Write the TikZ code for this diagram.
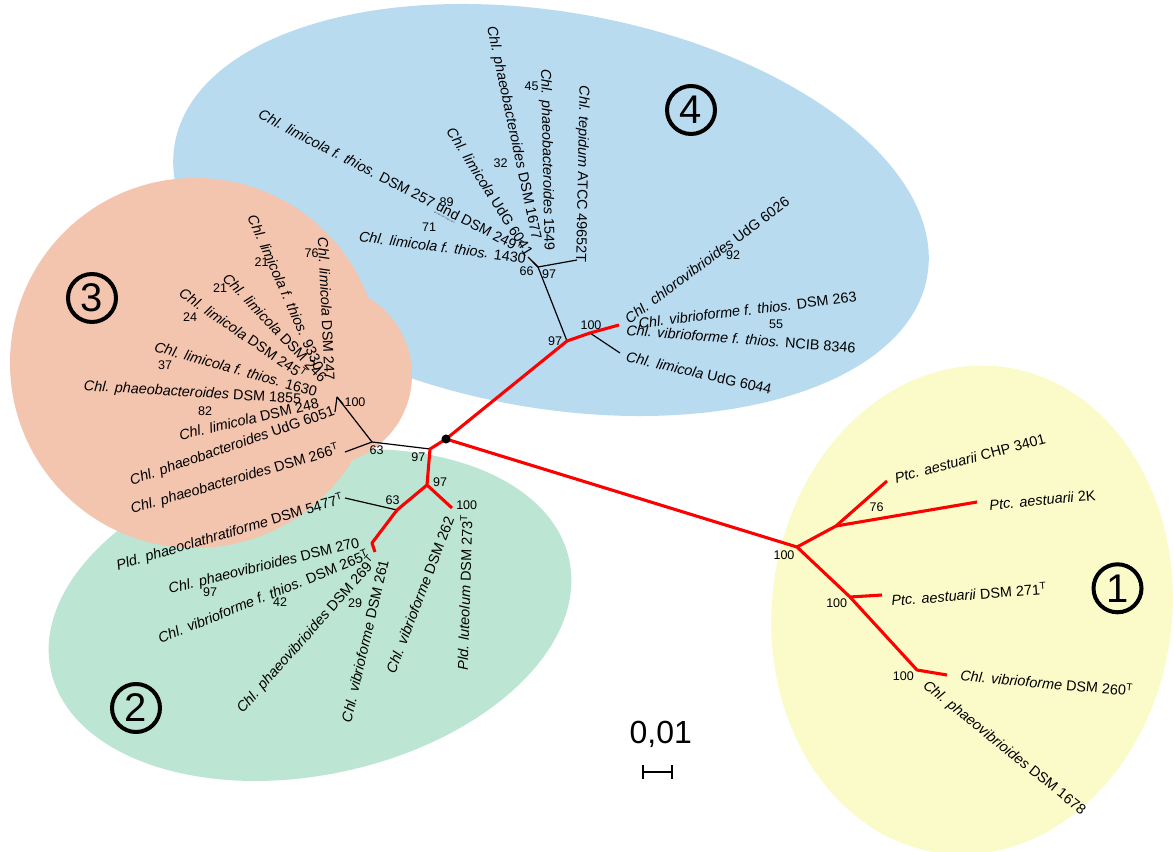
\documentclass[tikz,border=0pt]{standalone}
\usepackage{fontspec}
\setmainfont{Liberation Sans}
\definecolor{blueC}{RGB}{184,219,240}
\definecolor{salmonC}{RGB}{243,196,174}
\definecolor{greenC}{RGB}{189,229,212}
\definecolor{yellowC}{RGB}{251,251,201}
\newcommand\lblsize{\fontsize{10.8}{13}\selectfont}
\newcommand\numsize{\fontsize{9.4}{11}\selectfont}
\newcommand\circsize{\fontsize{30}{32}\selectfont}
\newcommand\dotund[1]{\setbox0\hbox{#1}\rlap{\raisebox{-2.2pt}{\hbox to\wd0{\fontsize{5}{6}\selectfont\leaders\hbox to 1.1pt{\hss.\hss}\hfill}}}\box0\relax}
\begin{document}
\begin{tikzpicture}[x=0.75pt,y=-0.75pt,
  lbl/.style={font=\lblsize, inner sep=0pt, anchor=center},
  num/.style={font=\numsize, inner sep=0pt, anchor=center},
  redbr/.style={draw=red, line width=2.3pt, line join=round},
  blkbr/.style={draw=black, line width=0.9pt, line join=round},
  circnum/.style={circle, draw=black, line width=3pt, minimum size=36pt, inner sep=0pt, font=\circsize}
]
\useasboundingbox (0,0) rectangle (1174,852);
\fill[white] (0,0) rectangle (1174,852);
% cluster areas
\begin{scope}[shift={(551,210)},rotate=-10]
  \fill[blueC] (0,0) ellipse [x radius=286.5pt, y radius=148.5pt];
\end{scope}
\begin{scope}[shift={(310,615)},rotate=12]
  \fill[greenC] (0,0) ellipse [x radius=198.75pt, y radius=120pt];
\end{scope}
\fill[salmonC] (195,363) circle [radius=138.75pt];
\fill[salmonC] (322,375) circle [radius=67.5pt];
\begin{scope}[shift={(972,610)},rotate=-7]
  \fill[yellowC] (0,0) ellipse [x radius=150pt, y radius=183.75pt];
\end{scope}

% tree coordinates
\coordinate (R) at (446,439);
\coordinate (n97a) at (430,449);
\coordinate (n97b) at (427,485);
\coordinate (lut) at (452,508);
\coordinate (n63g) at (397,510);
\coordinate (g1) at (372,543);
\coordinate (g2) at (375,552);
\coordinate (d5477) at (345,498);
\coordinate (n63s) at (372,442);
\coordinate (d266) at (345,452);
\coordinate (n100s) at (337,397);
\coordinate (s1) at (343,404);
\coordinate (s2) at (335,412);
\coordinate (n97c) at (567,341);
\coordinate (n100b) at (590,333);
\coordinate (vib) at (619,325);
\coordinate (lim6044) at (620,353);
\coordinate (nA) at (538,267);
\coordinate (tep) at (577,260);
\coordinate (a1) at (528,257);
\coordinate (a2) at (533,262);
\coordinate (n100y) at (797,547);
\coordinate (n76) at (836,526);
\coordinate (chp) at (887,481);
\coordinate (k2) at (977,502);
\coordinate (n100c) at (850,597);
\coordinate (d271) at (882,595);
\coordinate (n100d) at (917,670);
\coordinate (d260) at (947,675);

% black branches
\draw[blkbr] (n97a) -- (n63s);
\draw[blkbr] (n63s) -- (d266);
\draw[blkbr] (n63s) -- (n100s);
\draw[blkbr] (n100s) -- (s1);
\draw[blkbr] (n100s) -- (s2);
\draw[blkbr] (n63g) -- (d5477);
\draw[blkbr] (n97c) -- (nA);
\draw[blkbr] (nA) -- (tep);
\draw[blkbr] (nA) -- (a1);
\draw[blkbr] (nA) -- (a2);
\draw[blkbr] (n100b) -- (lim6044);
% red branches
\draw[redbr] (R) -- (n97a) -- (n97b) -- (lut);
\draw[redbr] (n97b) -- (n63g) -- (g1) -- (g2);
\draw[redbr] (R) -- (n97c) -- (n100b) -- (vib);
\draw[redbr] (R) -- (n100y) -- (n76) -- (chp);
\draw[redbr] (n76) -- (k2);
\draw[redbr] (n100y) -- (n100c) -- (d271);
\draw[redbr] (n100c) -- (n100d) -- (d260);
\fill[black] (R) circle [radius=3.4pt];

% group 4 labels
\node[lbl, rotate=-91.1] (la) at (581.7,174.3) {\textit{Chl. tepidum} ATCC 49652T};
\node[lbl, rotate=-88.9] (lb) at (546.7,160) {\textit{Chl. phaeobacteroides} 1549};
\node[lbl, rotate=-78] (lc) at (513.3,133) {\textit{Chl. phaeobacteroides} DSM 1677};
\node[lbl, rotate=-57.7] (ld) at (490,191.7) {\textit{Chl. limicola} UdG 6041};
\node[lbl, rotate=-27.3] (le) at (390.5,181.5) {\textit{Chl. limicola f. thios.} DSM 257 \dotund{und} DSM 249\textsuperscript{T}};
\node[lbl, rotate=-7.5] (lf) at (442.5,247.3) {\textit{Chl. limicola f. thios.} 1430};
\node[lbl, rotate=36.7] (lg) at (707,260) {\textit{Chl. chlorovibrioides} UdG 6026};
\node[lbl, rotate=6.9] (lh) at (747.5,310) {\textit{Chl. vibrioforme f. thios.} DSM 263};
\node[lbl, rotate=-4.5] (lj) at (741,339) {\textit{Chl. vibrioforme f. thios.} NCIB 8346};
\node[lbl, rotate=-12.8] (lk) at (699,373) {\textit{Chl. limicola} UdG 6044};
% group 3 labels
\node[lbl, rotate=-87.2] (ll) at (326.5,309) {\textit{Chl. limicola} DSM 247};
\node[lbl, rotate=-66.1] (lm) at (285.8,292.5) {\textit{Chl. limicola f. thios.} 9330};
\node[lbl, rotate=-46.4] (ln) at (275,327.5) {\textit{Chl. limicola} DSM 246};
\node[lbl, rotate=-34.4] (lo) at (243.3,333.3) {\textit{Chl. limicola} DSM 245\textsuperscript{T}};
\node[lbl, rotate=-15.9] (lp) at (235.8,369.2) {\textit{Chl. limicola f. thios.} 1630};
\node[lbl, rotate=-3.5] (lq) at (192.5,393.3) {\textit{Chl. phaeobacteroides} DSM 1855};
\node[lbl, rotate=13] (lr) at (249,419) {\textit{Chl. limicola} DSM 248};
\node[lbl, rotate=18.9] (ls) at (232.5,446.7) {\textit{Chl. phaeobacteroides} UdG 6051};
\node[lbl, rotate=16.2] (lt) at (235,479.2) {\textit{Chl. phaeobacteroides} DSM 266\textsuperscript{T}};
% group 2 labels
\node[lbl, rotate=16.5] (lu) at (230,532.5) {\textit{Pld. phaeoclathratiforme} DSM 5477\textsuperscript{T}};
\node[lbl, rotate=13.7] (lv) at (264.2,566.7) {\textit{Chl. phaeovibrioides} DSM 270};
\node[lbl, rotate=21.8] (lw) at (263.3,595.8) {\textit{Chl. vibrioforme f. thios.} DSM 265\textsuperscript{T}};
\node[lbl, rotate=48.4] (lx) at (306.7,635) {\textit{Chl. phaeovibrioides} DSM 269\textsuperscript{T}};
\node[lbl, rotate=76.9] (ly) at (365,641) {\textit{Chl. vibrioforme} DSM 261};
\node[lbl, rotate=69] (lz) at (420,595) {\textit{Chl. vibrioforme} DSM 262};
\node[lbl, rotate=88.2] (laa) at (464.2,592.5) {\textit{Pld. luteolum} DSM 273\textsuperscript{T}};
% group 1 labels
\node[lbl, rotate=14.9] (lbb) at (970,458.3) {\textit{Ptc. aestuarii} CHP 3401};
\node[lbl, rotate=5.4] (lcc) at (1042.5,500) {\textit{Ptc. aestuarii} 2K};
\node[lbl, rotate=4.3] (ldd) at (969,594) {\textit{Ptc. aestuarii} DSM 271\textsuperscript{T}};
\node[lbl, rotate=-5] (lee) at (1046.7,682.5) {\textit{Chl. vibrioforme} DSM 260\textsuperscript{T}};
\node[lbl, rotate=-38.8] (lff) at (1004,748.3) {\textit{Chl. phaeovibrioides} DSM 1678};

% bootstrap values
\node[num] (b45) at (531.7,86) {45};
\node[num] (b32) at (500.7,163.3) {32};
\node[num] (b89) at (446.7,201.7) {89};
\node[num] (b71) at (429,226.7) {71};
\node[num] (b66) at (526.7,270.7) {66};
\node[num] (b97a) at (549,274) {97};
\node[num] (b92) at (733,255) {92};
\node[num] (b55) at (776,324) {55};
\node[num] (b100a) at (591,325) {100};
\node[num] (b97b) at (555,341) {97};
\node[num] (b76a) at (311.7,253.3) {76};
\node[num] (b21a) at (261.7,261.7) {21};
\node[num] (b21b) at (220,288.3) {21};
\node[num] (b24) at (190,316.7) {24};
\node[num] (b37) at (165,365) {37};
\node[num] (b82) at (205,410.7) {82};
\node[num] (b100b) at (355,401.7) {100};
\node[num] (b63a) at (376.7,450) {63};
\node[num] (b97c) at (418.3,457.3) {97};
\node[num] (b97d) at (440,481.7) {97};
\node[num] (b100c) at (466.7,505) {100};
\node[num] (b63b) at (392.7,500) {63};
\node[num] (b97e) at (210,591.7) {97};
\node[num] (b42) at (280,601.7) {42};
\node[num] (b29) at (355,603.3) {29};
\node[num] (b76b) at (876.7,507.3) {76};
\node[num] (b100d) at (784,555) {100};
\node[num] (b100e) at (836.7,603.3) {100};
\node[num] (b100f) at (903.3,676) {100};

% cluster numbers
\node[circnum] (c1) at (1117.5,588.3) {1};
\node[circnum] (c2) at (136,708) {2};
\node[circnum] (c3) at (92,298) {3};
\node[circnum] (c4) at (691,110) {4};

% scale bar
\node[font=\fontsize{24}{26}\selectfont, inner sep=0pt] (sc) at (660.7,734.3) {0,01};
\coordinate (sbL) at (643,772);
\coordinate (sbR) at (672,772);
\draw[line width=1pt] (sbL) -- (sbR);
\draw[line width=1pt] ([yshift=5pt]sbL) -- ([yshift=-5pt]sbL);
\draw[line width=1pt] ([yshift=5pt]sbR) -- ([yshift=-5pt]sbR);
\end{tikzpicture}
\end{document}
